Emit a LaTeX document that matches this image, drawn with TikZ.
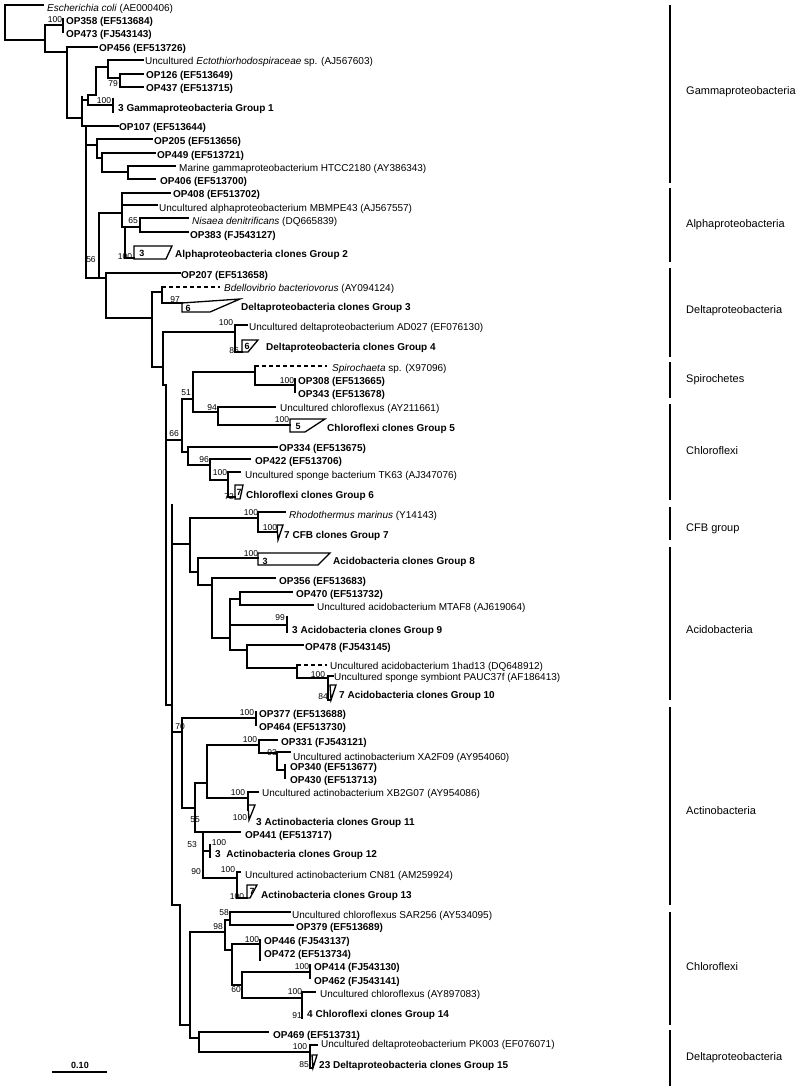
\documentclass[tikz,border=0pt]{standalone}
\usepackage{fontspec}
\setmainfont{Liberation Sans}
\begin{document}
\begin{tikzpicture}[x=1pt,y=-1pt,
  tl/.style={line width=1.3pt,line cap=rect},
  dl/.style={line width=1.3pt,dash pattern=on 4pt off 3pt},
  lf/.style={anchor=west,inner sep=0pt,font=\fontsize{10}{12}\selectfont},
  lfb/.style={lf,font=\fontsize{10}{12}\selectfont\bfseries},
  bs/.style={inner sep=0pt,font=\fontsize{8.5}{10}\selectfont},
  num/.style={inner sep=0pt,font=\fontsize{9}{10}\selectfont\bfseries},
  grp/.style={anchor=west,inner sep=0pt,font=\fontsize{11}{13}\selectfont},
  gl/.style={line width=1.4pt}]
\useasboundingbox (0,0) rectangle (803,1089);
% ---------- leaf labels
\node[lf] (ecoli) at (47,9) {\textit{Escherichia coli} (AE000406)};
\node[lfb] (op358) at (66,22) {OP358 (EF513684)};
\node[lfb] (op473) at (66,35) {OP473 (FJ543143)};
\node[lfb] (op456) at (99,49) {OP456 (EF513726)};
\node[lf] (ecto) at (145,62) {Uncultured \textit{Ectothiorhodospiraceae} sp. (AJ567603)};
\node[lfb] (op126) at (146,76) {OP126 (EF513649)};
\node[lfb] (op437) at (146,89) {OP437 (EF513715)};
\node[lfb] (g1) at (118,109) {3 Gammaproteobacteria Group 1};
\node[lfb] (op107) at (119,128) {OP107 (EF513644)};
\node[lfb] (op205) at (154,142) {OP205 (EF513656)};
\node[lfb] (op449) at (157,156) {OP449 (EF513721)};
\node[lf] (htcc) at (179,169) {Marine gammaproteobacterium HTCC2180 (AY386343)};
\node[lfb] (op406) at (160,182) {OP406 (EF513700)};
\node[lfb] (op408) at (173,195) {OP408 (EF513702)};
\node[lf] (mbmpe) at (159,209) {Uncultured alphaproteobacterium MBMPE43 (AJ567557)};
\node[lf] (nisaea) at (192,222) {\textit{Nisaea denitrificans} (DQ665839)};
\node[lfb] (op383) at (190,236) {OP383 (FJ543127)};
\node[lfb] (g2) at (175,255) {Alphaproteobacteria clones Group 2};
\node[lfb] (op207) at (181,276) {OP207 (EF513658)};
\node[lf] (bdello) at (224,289) {\textit{Bdellovibrio bacteriovorus} (AY094124)};
\node[lfb] (g3) at (241,308) {Deltaproteobacteria clones Group 3};
\node[lf] (ad027) at (249,328) {Uncultured deltaproteobacterium AD027 (EF076130)};
\node[lfb] (g4) at (266,348) {Deltaproteobacteria clones Group 4};
\node[lf] (spiro) at (332,369) {\textit{Spirochaeta} sp. (X97096)};
\node[lfb] (op308) at (298,382) {OP308 (EF513665)};
\node[lfb] (op343) at (298,395) {OP343 (EF513678)};
\node[lf] (ay2116) at (280,409) {Uncultured chloroflexus (AY211661)};
\node[lfb] (g5) at (327,429) {Chloroflexi clones Group 5};
\node[lfb] (op334) at (279,449) {OP334 (EF513675)};
\node[lfb] (op422) at (255,462) {OP422 (EF513706)};
\node[lf] (tk63) at (245,476) {Uncultured sponge bacterium TK63 (AJ347076)};
\node[lfb] (g6) at (246,496) {Chloroflexi clones Group 6};
\node[lf] (rhodo) at (289,516) {\textit{Rhodothermus marinus} (Y14143)};
\node[lfb] (g7) at (284,536) {7 CFB clones Group 7};
\node[lfb] (g8) at (333,562) {Acidobacteria clones Group 8};
\node[lfb] (op356) at (279,582) {OP356 (EF513683)};
\node[lfb] (op470) at (296,595) {OP470 (EF513732)};
\node[lf] (mtaf8) at (317,608) {Uncultured acidobacterium MTAF8 (AJ619064)};
\node[lfb] (g9) at (292,631) {3 Acidobacteria clones Group 9};
\node[lfb] (op478) at (305,648) {OP478 (FJ543145)};
\node[lf] (had13) at (330,667) {Uncultured acidobacterium 1had13 (DQ648912)};
\node[lf] (pauc) at (334,678) {Uncultured sponge symbiont PAUC37f (AF186413)};
\node[lfb] (g10) at (339,696) {7 Acidobacteria clones Group 10};
\node[lfb] (op377) at (259,715) {OP377 (EF513688)};
\node[lfb] (op464) at (259,728) {OP464 (EF513730)};
\node[lfb] (op331) at (281,743) {OP331 (FJ543121)};
\node[lf] (xa2f09) at (293,758) {Uncultured actinobacterium XA2F09 (AY954060)};
\node[lfb] (op340) at (290,768) {OP340 (EF513677)};
\node[lfb] (op430) at (290,781) {OP430 (EF513713)};
\node[lf] (xb2g07) at (262,794) {Uncultured actinobacterium XB2G07 (AY954086)};
\node[lfb] (g11) at (256,823) {3 Actinobacteria clones Group 11};
\node[lfb] (op441) at (245,836) {OP441 (EF513717)};
\node[lfb] (g12) at (215,855) {3\ \ Actinobacteria clones Group 12};
\node[lf] (cn81) at (245,876) {Uncultured actinobacterium CN81 (AM259924)};
\node[lfb] (g13) at (261,896) {Actinobacteria clones Group 13};
\node[lf] (sar256) at (292,916) {Uncultured chloroflexus SAR256 (AY534095)};
\node[lfb] (op379) at (296,928) {OP379 (EF513689)};
\node[lfb] (op446) at (264,942) {OP446 (FJ543137)};
\node[lfb] (op472) at (264,955) {OP472 (EF513734)};
\node[lfb] (op414) at (314,968) {OP414 (FJ543130)};
\node[lfb] (op462) at (314,982) {OP462 (FJ543141)};
\node[lf] (ay8970) at (320,995) {Uncultured chloroflexus (AY897083)};
\node[lfb] (g14) at (307,1015) {4 Chloroflexi clones Group 14};
\node[lfb] (op469) at (273,1036) {OP469 (EF513731)};
\node[lf] (pk003) at (321,1045) {Uncultured deltaproteobacterium PK003 (EF076071)};
\node[lfb] (g15) at (319,1066) {23\ Deltaproteobacteria clones Group 15};
% ---------- tree: gamma
\draw[tl] (43,5) -- (5,5) -- (5,40) -- (45,40);
\draw[tl] (63,25) -- (45,25) -- (45,52) -- (67,52);
\draw[tl] (63,19) -- (63,32);
\draw[tl] (97,47) -- (67,47) -- (67,118) -- (82,118);
\draw[tl] (82,100) -- (88,100);
\draw[tl] (82,97) -- (82,126) -- (118,126);
\draw[tl] (96,95) -- (88,95) -- (88,105) -- (113,105);
\draw[tl] (113,99) -- (113,112);
\draw[tl] (96,95) -- (96,67) -- (108,67);
\draw[tl] (143,60) -- (108,60) -- (108,78) -- (120,78);
\draw[tl] (143,74) -- (120,74) -- (120,87) -- (143,87);
\draw[tl] (86,126) -- (86,278) -- (99,278);
\draw[tl] (86,145) -- (97,145);
\draw[tl] (152,139) -- (97,139) -- (97,158) -- (102,158);
\draw[tl] (155,153) -- (102,153) -- (102,172) -- (128,172);
\draw[tl] (175,166) -- (128,166) -- (128,179) -- (155,179);
% ---------- alpha
\draw[tl] (122,213) -- (99,213) -- (99,278) -- (106,278);
\draw[tl] (170,193) -- (122,193) -- (122,227) -- (125,227);
\draw[tl] (122,205) -- (157,205);
\draw[tl] (140,227) -- (125,227) -- (125,258) -- (134,258);
\draw[tl] (188,218) -- (140,218) -- (140,232) -- (188,232);
\draw[tl] (134,246) -- (172,246) -- (166,259) -- (134,259) -- cycle;
% ---------- delta
\draw[tl] (180,273) -- (106,273) -- (106,318) -- (152,318);
\draw[tl] (162,292) -- (152,292) -- (152,367) -- (163,367);
\draw[tl] (162,287) -- (162,303) -- (182,303);
\draw[dl] (162,287) -- (220,287);
\draw[tl] (182,303) -- (240,299) -- (210,312) -- (182,312) -- cycle;
\draw[tl] (235,332) -- (163,332) -- (163,385) -- (166,385);
\draw[tl] (247,325) -- (235,325) -- (235,352) -- (242,352);
\draw[tl] (242,340) -- (258,340) -- (248,352) -- (242,352) -- cycle;
% ---------- spirochetes / chloroflexi
\draw[tl] (166,385) -- (166,705) -- (172,705);
\draw[tl] (166,440) -- (182,440);
\draw[tl] (193,399) -- (182,399) -- (182,452) -- (188,452);
\draw[tl] (255,372) -- (193,372) -- (193,412) -- (218,412);
\draw[tl] (255,366) -- (255,385) -- (295,385);
\draw[dl] (255,366) -- (327,366);
\draw[tl] (295,379) -- (295,392);
\draw[tl] (275,407) -- (218,407) -- (218,425) -- (290,425);
\draw[tl] (290,419) -- (325,419) -- (305,432) -- (290,432) -- cycle;
\draw[tl] (277,447) -- (188,447) -- (188,465) -- (210,465);
\draw[tl] (250,459) -- (210,459) -- (210,480) -- (228,480);
\draw[tl] (240,472) -- (228,472) -- (228,497) -- (235,497);
\draw[tl] (235,485) -- (243,485) -- (240,499) -- (235,499) -- cycle;
% ---------- CFB / acido
\draw[tl] (172,505) -- (172,905) -- (180,905);
\draw[tl] (172,544) -- (190,544);
\draw[tl] (258,518) -- (190,518) -- (190,572) -- (198,572);
\draw[tl] (285,512) -- (258,512) -- (258,532) -- (277,532);
\draw[tl] (277,525) -- (283,525) -- (278,540) -- cycle;
\draw[tl] (258,558) -- (198,558) -- (198,585) -- (212,585);
\draw[tl] (258,553) -- (330,553) -- (318,565) -- (258,565) -- cycle;
\draw[tl] (275,578) -- (212,578) -- (212,638) -- (230,638);
\draw[tl] (240,599) -- (230,599) -- (230,650) -- (247,650);
\draw[tl] (292,592) -- (240,592) -- (240,605) -- (313,605);
\draw[tl] (230,625) -- (287,625);
\draw[tl] (287,617) -- (287,632);
\draw[tl] (303,645) -- (247,645) -- (247,668) -- (297,668);
\draw[dl] (297,665) -- (327,665);
\draw[tl] (297,665) -- (297,678) -- (328,678);
\draw[tl] (333,676) -- (328,676) -- (328,700) -- (330,700);
\draw[tl] (330,685) -- (336,685) -- (331,700) -- cycle;
% ---------- actino
\draw[tl] (172,732) -- (182,732);
\draw[tl] (256,718) -- (182,718) -- (182,808) -- (195,808);
\draw[tl] (256,712) -- (256,725);
\draw[tl] (207,783) -- (195,783) -- (195,832) -- (203,832);
\draw[tl] (259,745) -- (207,745) -- (207,798) -- (248,798);
\draw[tl] (277,740) -- (259,740) -- (259,753) -- (277,753);
\draw[tl] (290,752) -- (277,752) -- (277,770) -- (285,770);
\draw[tl] (285,765) -- (285,778);
\draw[tl] (258,792) -- (248,792) -- (248,810);
\draw[tl] (248,805) -- (255,805) -- (249,820) -- cycle;
\draw[tl] (240,832) -- (203,832) -- (203,878) -- (237,878);
\draw[tl] (203,851) -- (210,851);
\draw[tl] (210,845) -- (210,857);
\draw[tl] (240,872) -- (237,872) -- (237,898) -- (247,898);
\draw[tl] (247,885) -- (257,885) -- (250,898) -- (247,898) -- cycle;
% ---------- chloroflexi 14 / delta 15
\draw[tl] (180,905) -- (180,1025) -- (190,1025);
\draw[tl] (225,932) -- (190,932) -- (190,1038) -- (199,1038);
\draw[tl] (230,920) -- (225,920) -- (225,950) -- (232,950);
\draw[tl] (290,912) -- (230,912) -- (230,925) -- (293,925);
\draw[tl] (260,944) -- (232,944) -- (232,985) -- (242,985);
\draw[tl] (260,940) -- (260,960);
\draw[tl] (310,972) -- (242,972) -- (242,998) -- (302,998);
\draw[tl] (310,965) -- (310,978);
\draw[tl] (315,992) -- (302,992) -- (302,1018);
\draw[tl] (268,1032) -- (199,1032) -- (199,1052) -- (310,1052);
\draw[tl] (317,1045) -- (310,1045) -- (310,1068) -- (312,1068);
\draw[tl] (312,1055) -- (317,1055) -- (313,1068) -- cycle;
% ---------- bootstrap values
\node[bs] (b1) at (55,20) {100};
\node[bs] (b2) at (113,84) {79};
\node[bs] (b3) at (104,101) {100};
\node[bs] (b4) at (91,260) {56};
\node[bs] (b5) at (133,221) {65};
\node[bs] (b6) at (125,257) {100};
\node[bs] (b7) at (175,300) {97};
\node[bs] (b8) at (226,323) {100};
\node[bs] (b9) at (234,351) {86};
\node[bs] (b10) at (287,381) {100};
\node[bs] (b11) at (186,393) {51};
\node[bs] (b12) at (212,408) {94};
\node[bs] (b13) at (282,420) {100};
\node[bs] (b14) at (174,434) {66};
\node[bs] (b15) at (204,460) {96};
\node[bs] (b16) at (220,473) {100};
\node[bs] (b17) at (229,497) {72};
\node[bs] (b18) at (251,513) {100};
\node[bs] (b19) at (270,528) {100};
\node[bs] (b20) at (251,554) {100};
\node[bs] (b21) at (280,618) {99};
\node[bs] (b22) at (318,675) {100};
\node[bs] (b23) at (323,697) {84};
\node[bs] (b24) at (247,713) {100};
\node[bs] (b25) at (180,727) {70};
\node[bs] (b26) at (250,740) {100};
\node[bs] (b27) at (272,753) {93};
\node[bs] (b28) at (238,793) {100};
\node[bs] (b29) at (240,818) {100};
\node[bs] (b30) at (195,820) {55};
\node[bs] (b31) at (192,845) {53};
\node[bs] (b32) at (219,843) {100};
\node[bs] (b33) at (196,872) {90};
\node[bs] (b34) at (228,870) {100};
\node[bs] (b35) at (237,897) {100};
\node[bs] (b36) at (224,913) {58};
\node[bs] (b37) at (218,927) {98};
\node[bs] (b38) at (252,940) {100};
\node[bs] (b39) at (302,967) {100};
\node[bs] (b40) at (236,990) {60};
\node[bs] (b41) at (295,992) {100};
\node[bs] (b42) at (297,1016) {91};
\node[bs] (b43) at (300,1047) {100};
\node[bs] (b44) at (304,1065) {85};
% ---------- clone counts in groups
\node[num] (n2) at (142,253) {3};
\node[num] (n3) at (188,308) {6};
\node[num] (n4) at (247,346) {6};
\node[num] (n5) at (298,426) {5};
\node[num] (n6) at (239,492) {7};
\node[num] (n8) at (265,561) {3};
\node[num] (n13) at (252,891) {7};
% ---------- scale bar
\draw[tl] (53,1072) -- (106,1072);
\node[inner sep=0pt,font=\fontsize{9}{10}\selectfont\bfseries] (scale) at (80,1065) {0.10};
% ---------- group brackets
\draw[gl] (670,5) -- (670,183);
\node[grp] (G1) at (686,92) {Gammaproteobacteria};
\draw[gl] (670,188) -- (670,262);
\node[grp] (G2) at (686,225) {Alphaproteobacteria};
\draw[gl] (670,268) -- (670,357);
\node[grp] (G3) at (686,311) {Deltaproteobacteria};
\draw[gl] (670,362) -- (670,398);
\node[grp] (G4) at (686,380) {Spirochetes};
\draw[gl] (670,404) -- (670,500);
\node[grp] (G5) at (686,451) {Chloroflexi};
\draw[gl] (670,507) -- (670,540);
\node[grp] (G6) at (686,529) {CFB group};
\draw[gl] (670,547) -- (670,700);
\node[grp] (G7) at (686,630) {Acidobacteria};
\draw[gl] (670,707) -- (670,905);
\node[grp] (G8) at (686,811) {Actinobacteria};
\draw[gl] (670,912) -- (670,1025);
\node[grp] (G9) at (686,967) {Chloroflexi};
\draw[gl] (670,1030) -- (670,1086);
\node[grp] (G10) at (686,1058) {Deltaproteobacteria};
\end{tikzpicture}
\end{document}
